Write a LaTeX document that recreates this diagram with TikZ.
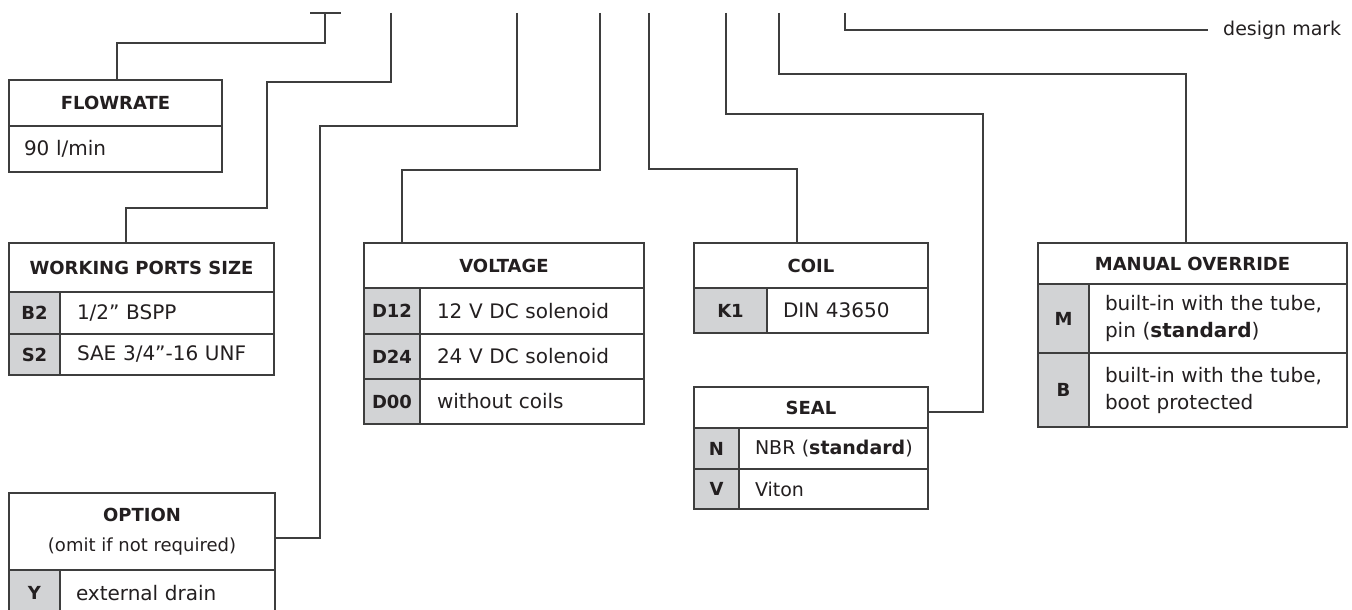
\documentclass[tikz,border=0pt]{standalone}
\usepackage{fontspec}
\setmainfont{DejaVu Sans}
\definecolor{linec}{HTML}{3E3E3E}
\definecolor{codeg}{HTML}{D2D3D5}
\definecolor{txt}{HTML}{231F20}
\begin{document}
\begin{tikzpicture}[x=1pt,y=-1pt,
  cell/.style={draw=linec, line width=1.3pt, inner sep=0pt, outer sep=0pt, anchor=north west, text=txt, font=\fontsize{18}{26}\selectfont},
  hdr/.style={cell, font=\fontsize{18}{26}\selectfont\bfseries},
  code/.style={cell, fill=codeg, font=\fontsize{18}{26}\selectfont\bfseries},
  desc/.style={cell, align=left, font=\fontsize{20}{27}\selectfont},
  conn/.style={draw=linec, line width=1.3pt},
  lbl/.style={anchor=west, text=txt, font=\fontsize{19}{26}\selectfont, inner ysep=0pt}]
\useasboundingbox (0,0) rectangle (1352,610);
\clip (0,0) rectangle (1352,610);
\fill[white] (0,0) rectangle (1352,610);

% FLOWRATE
\node[hdr, minimum width=213pt, minimum height=46pt] (flowH) at (9,80) {FLOWRATE};
\node[desc, minimum height=46pt, text width=183pt, inner xsep=15pt] (flowV) at (9,126) {90 l/min};

% WORKING PORTS SIZE
\node[hdr, minimum width=265pt, minimum height=49pt] (wpsH) at (9,243) {WORKING PORTS SIZE};
\node[code, minimum width=51pt, minimum height=42pt] (wpsC1) at (9,292) {B2};
\node[desc, minimum height=42pt, text width=180pt, inner xsep=17pt] (wpsD1) at (60,292) {1/2” BSPP};
\node[code, minimum width=51pt, minimum height=41pt] (wpsC2) at (9,334) {S2};
\node[desc, minimum height=41pt, text width=180pt, inner xsep=17pt] (wpsD2) at (60,334) {SAE 3/4”-16 UNF};

% VOLTAGE
\node[hdr, minimum width=280pt, minimum height=45pt] (voltH) at (364,243) {VOLTAGE};
\node[code, minimum width=56pt, minimum height=46pt] (voltC1) at (364,288) {D12};
\node[desc, minimum height=46pt, text width=190pt, inner xsep=17pt] (voltD1) at (420,288) {12 V DC solenoid};
\node[code, minimum width=56pt, minimum height=45pt] (voltC2) at (364,334) {D24};
\node[desc, minimum height=45pt, text width=190pt, inner xsep=17pt] (voltD2) at (420,334) {24 V DC solenoid};
\node[code, minimum width=56pt, minimum height=45pt] (voltC3) at (364,379) {D00};
\node[desc, minimum height=45pt, text width=190pt, inner xsep=17pt] (voltD3) at (420,379) {without coils};

% COIL
\node[hdr, minimum width=234pt, minimum height=45pt] (coilH) at (694,243) {COIL};
\node[code, minimum width=73pt, minimum height=45pt] (coilC1) at (694,288) {K1};
\node[desc, minimum height=45pt, text width=129pt, inner xsep=16pt] (coilD1) at (767,288) {DIN 43650};

% SEAL
\node[hdr, minimum width=234pt, minimum height=41pt] (sealH) at (694,387) {SEAL};
\node[code, minimum width=45pt, minimum height=41pt] (sealC1) at (694,428) {N};
\node[desc, minimum height=41pt, text width=157pt, inner xsep=16pt, font=\fontsize{19}{26}\selectfont] (sealD1) at (739,428) {\mbox{NBR (\textbf{standard})}};
\node[code, minimum width=45pt, minimum height=40pt] (sealC2) at (694,469) {V};
\node[desc, minimum height=40pt, text width=157pt, inner xsep=16pt, font=\fontsize{19}{26}\selectfont] (sealD2) at (739,469) {Viton};

% MANUAL OVERRIDE
\node[hdr, minimum width=309pt, minimum height=41pt] (manH) at (1038,243) {MANUAL OVERRIDE};
\node[code, minimum width=51pt, minimum height=69pt] (manC1) at (1038,284) {M};
\node[desc, minimum height=69pt, text width=226pt, inner xsep=16pt] (manD1) at (1089,284) {built-in with the tube,\\pin (\textbf{standard})};
\node[code, minimum width=51pt, minimum height=74pt] (manC2) at (1038,353) {B};
\node[desc, minimum height=74pt, text width=226pt, inner xsep=16pt] (manD2) at (1089,353) {built-in with the tube,\\boot protected};

% OPTION
\node[hdr, minimum width=266pt, minimum height=77pt, align=center, font=\fontsize{18}{30}\selectfont\bfseries] (optH) at (9,493) {OPTION\\{\mdseries (omit if not required)}};
\node[code, minimum width=51pt, minimum height=46pt] (optC1) at (9,570) {Y};
\node[desc, minimum height=46pt, text width=183pt, inner xsep=16pt] (optD1) at (60,570) {external drain};

% design mark label
\node[lbl, inner xsep=15pt] (dm) at (1208,30) {design mark};

% connector start points
\coordinate (tL) at (310,13);
\coordinate (tR) at (341,13);
\coordinate (t1) at (325,13);
\coordinate (t2) at (391,13);
\coordinate (t3) at (517,13);
\coordinate (t4) at (600,13);
\coordinate (t5) at (649,13);
\coordinate (t6) at (726,13);
\coordinate (t7) at (779,13);
\coordinate (t8) at (845,13);

% connectors
\draw[conn] (tL) -- (tR);
\draw[conn] (t1) -- (325,43) -- (117,43) -- (117,0 |- flowH.north);
\draw[conn] (t2) -- (391,82) -- (267,82) -- (267,208) -- (126,208) -- (126,0 |- wpsH.north);
\draw[conn] (t3) -- (517,126) -- (320,126) -- (320,538) -- (optH.east |- 0,538);
\draw[conn] (t4) -- (600,170) -- (402,170) -- (402,0 |- voltH.north);
\draw[conn] (t5) -- (649,169) -- (797,169) -- (797,0 |- coilH.north);
\draw[conn] (t6) -- (726,114) -- (983,114) -- (983,412) -- (sealH.east |- 0,412);
\draw[conn] (t7) -- (779,74) -- (1186,74) -- (1186,0 |- manH.north);
\draw[conn] (t8) -- (845,30) -- (dm.west);
\end{tikzpicture}
\end{document}
